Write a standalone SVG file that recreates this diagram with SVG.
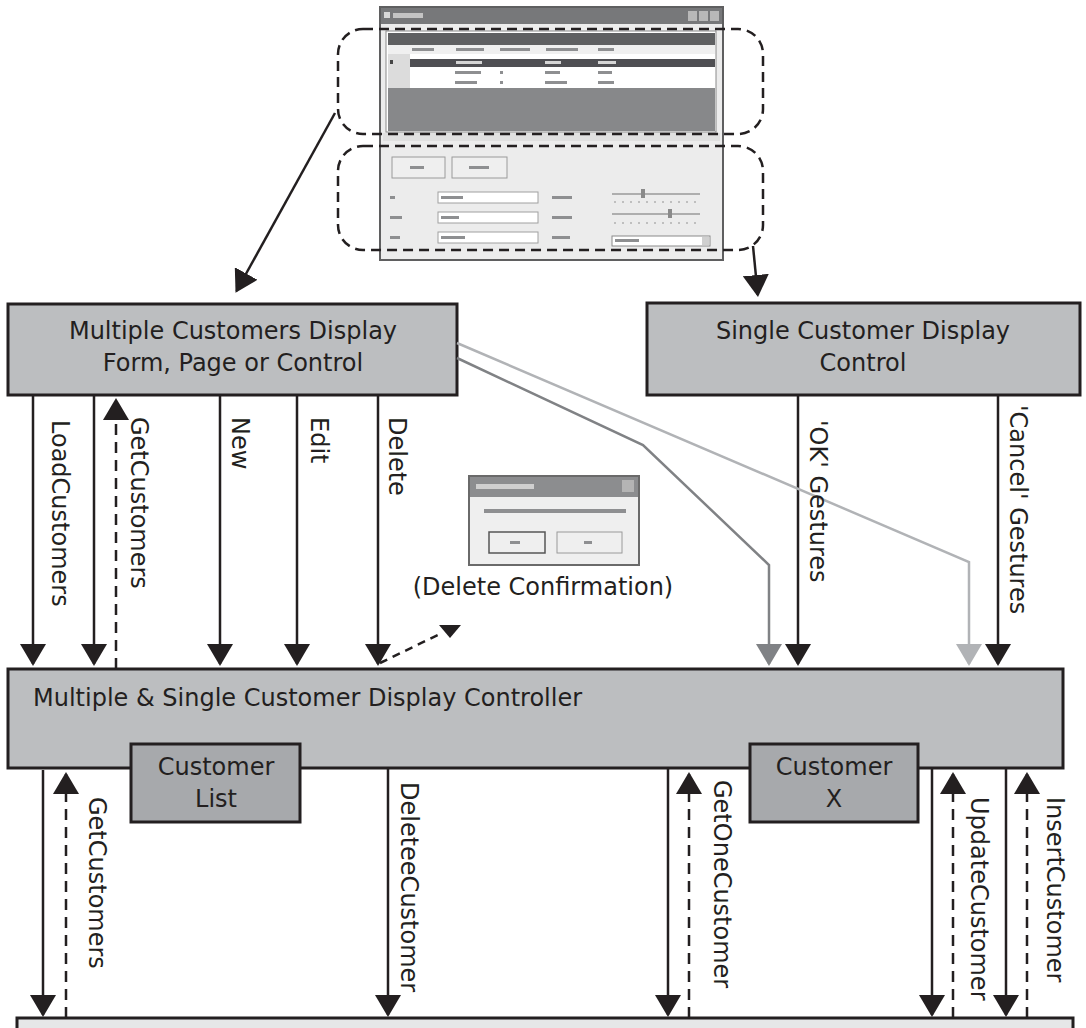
<svg xmlns="http://www.w3.org/2000/svg" width="1086" height="1028" viewBox="0 0 1086 1028">
  <style>
    .box { fill: #bcbec0; stroke: #231f20; stroke-width: 3; }
    .inner { fill: #a7a9ac; stroke: #231f20; stroke-width: 3; }
    .txt { font-family: "DejaVu Sans", "Liberation Sans", sans-serif; font-size: 24px; fill: #231f20; }
    .mid { text-anchor: middle; }
    .solid { fill: none; stroke: #231f20; stroke-width: 2.5; marker-end: url(#ah); }
    .dash { fill: none; stroke: #231f20; stroke-width: 2.5; stroke-dasharray: 11 7; marker-end: url(#ah); }
    .region { fill: none; stroke: #231f20; stroke-width: 2.5; stroke-dasharray: 10 6; }
    .bar { fill: #8e8f91; }
    .lbar { fill: #d6d6d6; }
  </style>
  <defs>
    <marker id="ah" markerUnits="userSpaceOnUse" markerWidth="24" markerHeight="26" refX="20" refY="13" orient="auto">
      <path d="M0,0 L22,13 L0,26 z" fill="#231f20"/>
    </marker>
    <marker id="ah-dark" markerUnits="userSpaceOnUse" markerWidth="24" markerHeight="26" refX="20" refY="13" orient="auto">
      <path d="M0,0 L22,13 L0,26 z" fill="#808285"/>
    </marker>
    <marker id="ah-light" markerUnits="userSpaceOnUse" markerWidth="24" markerHeight="26" refX="20" refY="13" orient="auto">
      <path d="M0,0 L22,13 L0,26 z" fill="#b1b3b6"/>
    </marker>
    <filter id="soft" x="-5%" y="-5%" width="110%" height="110%">
      <feGaussianBlur stdDeviation="0.6"/>
    </filter>
  </defs>

  <rect width="1086" height="1028" fill="#ffffff"/>

  <!-- customer form window (grid + detail panel) -->
  <g id="form-screenshot" filter="url(#soft)">
    <rect x="380" y="7" width="343" height="253" fill="#ececec" stroke="#5e5f61" stroke-width="2"/>
    <rect x="381" y="8" width="341" height="16" fill="#77787a"/>
    <rect x="384" y="12" width="6" height="6" fill="#d8d8d8"/>
    <rect x="393" y="13" width="30" height="5" fill="#c4c4c4"/>
    <rect x="688" y="11" width="9" height="10" fill="#b8b8b8"/>
    <rect x="699" y="11" width="9" height="10" fill="#b8b8b8"/>
    <rect x="710" y="11" width="9" height="10" fill="#b8b8b8"/>
    <!-- grid -->
    <rect x="386" y="31" width="330" height="101" fill="#ffffff" stroke="#8a8a8a" stroke-width="1"/>
    <rect x="388" y="33" width="327" height="12" fill="#5f6062"/>
    <rect x="388" y="45" width="327" height="9" fill="#f0f0f0"/>
    <rect x="412" y="48" width="22" height="3" class="bar"/>
    <rect x="456" y="48" width="28" height="3" class="bar"/>
    <rect x="500" y="48" width="30" height="3" class="bar"/>
    <rect x="546" y="48" width="32" height="3" class="bar"/>
    <rect x="598" y="48" width="16" height="3" class="bar"/>
    <rect x="388" y="54" width="22" height="34" fill="#dcdcdc"/>
    <rect x="390" y="60" width="3" height="4" fill="#444"/>
    <rect x="410" y="59" width="305" height="8" fill="#4f5052"/>
    <rect x="456" y="61" width="26" height="3" class="lbar"/>
    <rect x="545" y="61" width="16" height="3" class="lbar"/>
    <rect x="598" y="61" width="18" height="3" class="lbar"/>
    <rect x="410" y="67" width="305" height="21" fill="#ffffff"/>
    <rect x="455" y="71" width="26" height="3" class="bar"/>
    <rect x="500" y="71" width="3" height="3" class="bar"/>
    <rect x="545" y="71" width="15" height="3" class="bar"/>
    <rect x="598" y="71" width="14" height="3" class="bar"/>
    <rect x="455" y="81" width="22" height="3" class="bar"/>
    <rect x="500" y="81" width="3" height="3" class="bar"/>
    <rect x="545" y="81" width="22" height="3" class="bar"/>
    <rect x="598" y="81" width="16" height="3" class="bar"/>
    <rect x="388" y="88" width="327" height="43" fill="#87888a"/>
    <rect x="383" y="133" width="337" height="8" fill="#e0e0e0"/>
    <!-- detail panel -->
    <rect x="392" y="157" width="53" height="21" fill="#efefef" stroke="#9a9a9a" stroke-width="1"/>
    <rect x="410" y="166" width="14" height="3" class="bar"/>
    <rect x="452" y="157" width="55" height="21" fill="#efefef" stroke="#9a9a9a" stroke-width="1"/>
    <rect x="469" y="166" width="20" height="3" class="bar"/>
    <rect x="390" y="196" width="5" height="3" class="bar"/>
    <rect x="390" y="216" width="12" height="3" class="bar"/>
    <rect x="390" y="236" width="10" height="3" class="bar"/>
    <rect x="438" y="192" width="100" height="11" fill="#ffffff" stroke="#a0a0a0" stroke-width="1"/>
    <rect x="441" y="196" width="22" height="3" class="bar"/>
    <rect x="438" y="212" width="100" height="11" fill="#ffffff" stroke="#a0a0a0" stroke-width="1"/>
    <rect x="441" y="216" width="18" height="3" class="bar"/>
    <rect x="438" y="232" width="100" height="11" fill="#ffffff" stroke="#a0a0a0" stroke-width="1"/>
    <rect x="441" y="236" width="24" height="3" class="bar"/>
    <rect x="552" y="196" width="20" height="3" class="bar"/>
    <rect x="552" y="216" width="20" height="3" class="bar"/>
    <rect x="552" y="236" width="18" height="3" class="bar"/>
    <line x1="612" y1="194" x2="700" y2="194" stroke="#9a9a9a" stroke-width="1.5"/>
    <rect x="641" y="189" width="4" height="9" fill="#8a8a8a"/>
    <line x1="614" y1="202" x2="700" y2="202" stroke="#b0b0b0" stroke-width="1.5" stroke-dasharray="2 6"/>
    <line x1="612" y1="214" x2="700" y2="214" stroke="#9a9a9a" stroke-width="1.5"/>
    <rect x="668" y="209" width="4" height="9" fill="#8a8a8a"/>
    <line x1="614" y1="223" x2="700" y2="223" stroke="#b0b0b0" stroke-width="1.5" stroke-dasharray="2 6"/>
    <rect x="612" y="236" width="98" height="10" fill="#ffffff" stroke="#8a8a8a" stroke-width="1"/>
    <rect x="615" y="239" width="24" height="3" class="bar"/>
    <rect x="702" y="237" width="7" height="8" fill="#d0d0d0"/>
  </g>

  <!-- regions of the window -->
  <g id="grid-region">
    <rect x="338" y="29" width="425" height="105" rx="25" ry="25" class="region"/>
  </g>
  <g id="detail-region">
    <rect x="338" y="146" width="425" height="104" rx="25" ry="25" class="region"/>
  </g>

  <!-- confirmation dialog -->
  <g id="confirm-dialog" filter="url(#soft)">
    <rect x="469" y="476" width="170" height="89" fill="#efefef" stroke="#6a6a6a" stroke-width="2"/>
    <rect x="470" y="477" width="168" height="20" fill="#8c8d8f"/>
    <rect x="476" y="484" width="58" height="5" fill="#cfcfcf"/>
    <rect x="622" y="480" width="12" height="12" fill="#b4b4b4"/>
    <rect x="484" y="509" width="142" height="4" class="bar"/>
    <rect x="489" y="532" width="56" height="21" fill="#efefef" stroke="#555" stroke-width="1.5"/>
    <rect x="510" y="541" width="10" height="3" class="bar"/>
    <rect x="557" y="532" width="65" height="21" fill="#efefef" stroke="#9a9a9a" stroke-width="1"/>
    <rect x="584" y="541" width="8" height="3" class="bar"/>
  </g>
  <g id="confirm-caption">
    <text x="543" y="595" class="txt mid">(Delete Confirmation)</text>
  </g>

  <!-- views -->
  <g id="multi-display">
    <rect x="8" y="304" width="449" height="91" class="box"/>
    <text x="233" y="339" class="txt mid">Multiple Customers Display</text>
    <text x="233" y="371" class="txt mid">Form, Page or Control</text>
  </g>
  <g id="single-display">
    <rect x="647" y="303" width="433" height="92" class="box"/>
    <text x="863" y="339" class="txt mid">Single Customer Display</text>
    <text x="863" y="371" class="txt mid">Control</text>
  </g>

  <!-- controller and its state -->
  <g id="controller">
    <rect x="8" y="669" width="1055" height="99" class="box"/>
    <text x="33" y="706" class="txt">Multiple &amp; Single Customer Display Controller</text>
  </g>
  <g id="customer-list">
    <rect x="131" y="744" width="169" height="78" class="inner"/>
    <text x="216" y="775" class="txt mid">Customer</text>
    <text x="216" y="807" class="txt mid">List</text>
  </g>
  <g id="customer-x">
    <rect x="750" y="744" width="168" height="78" class="inner"/>
    <text x="834" y="775" class="txt mid">Customer</text>
    <text x="834" y="807" class="txt mid">X</text>
  </g>

  <!-- data layer -->
  <g id="data-layer">
    <rect x="17" y="1018" width="1056" height="20" fill="#e6e7e8" stroke="#231f20" stroke-width="3"/>
  </g>

  <g id="connectors">
    <!-- window regions to views -->
    <line x1="335" y1="113" x2="236.5" y2="291" class="solid"/>
    <line x1="753" y1="246" x2="757.8" y2="295" class="solid"/>

    <!-- view to controller -->
    <line x1="33" y1="396" x2="33" y2="664" class="solid"/>
    <line x1="94" y1="396" x2="94" y2="664" class="solid"/>
    <line x1="116" y1="669" x2="116" y2="400" class="dash"/>
    <line x1="220" y1="396" x2="220" y2="664" class="solid"/>
    <line x1="297" y1="396" x2="297" y2="664" class="solid"/>
    <line x1="378" y1="396" x2="378" y2="664" class="solid"/>
    <line x1="798" y1="396" x2="798" y2="664" class="solid"/>
    <line x1="998" y1="396" x2="998" y2="664" class="solid"/>

    <!-- selection routed to the single customer control -->
    <polyline points="457,358 643,445 769,565 769,664" fill="none" stroke="#808285" stroke-width="2.5" marker-end="url(#ah-dark)"/>
    <polyline points="457,343 969,562 969,664" fill="none" stroke="#b1b3b6" stroke-width="2.5" marker-end="url(#ah-light)"/>

    <!-- delete confirmation -->
    <line x1="380" y1="663" x2="440" y2="634" fill="none" stroke="#231f20" stroke-width="2.5" stroke-dasharray="8 6"/>
    <polygon points="439,625 461,625 450,638" fill="#231f20"/>

    <!-- controller to data layer -->
    <line x1="43" y1="770" x2="43" y2="1015" class="solid"/>
    <line x1="66" y1="1018" x2="66" y2="774" class="dash"/>
    <line x1="388" y1="769" x2="388" y2="1015" class="solid"/>
    <line x1="668" y1="769" x2="668" y2="1015" class="solid"/>
    <line x1="689" y1="1018" x2="689" y2="774" class="dash"/>
    <line x1="932" y1="769" x2="932" y2="1015" class="solid"/>
    <line x1="953" y1="1018" x2="953" y2="774" class="dash"/>
    <line x1="1006" y1="769" x2="1006" y2="1015" class="solid"/>
    <line x1="1027" y1="1018" x2="1027" y2="774" class="dash"/>

    <!-- labels -->
    <text transform="translate(52,420) rotate(90)" class="txt">LoadCustomers</text>
    <text transform="translate(131,417) rotate(90)" class="txt">GetCustomers</text>
    <text transform="translate(232,417) rotate(90)" class="txt">New</text>
    <text transform="translate(311,417) rotate(90)" class="txt">Edit</text>
    <text transform="translate(389,417) rotate(90)" class="txt">Delete</text>
    <text transform="translate(810,420) rotate(90)" class="txt">'OK' Gestures</text>
    <text transform="translate(1010,405) rotate(90)" class="txt">'Cancel' Gestures</text>
    <text transform="translate(89,797) rotate(90)" class="txt">GetCustomers</text>
    <text transform="translate(401,782) rotate(90)" class="txt">DeleteeCustomer</text>
    <text transform="translate(714,780) rotate(90)" class="txt">GetOneCustomer</text>
    <text transform="translate(971,797) rotate(90)" class="txt">UpdateCustomer</text>
    <text transform="translate(1047,797) rotate(90)" class="txt">InsertCustomer</text>
  </g>
</svg>
